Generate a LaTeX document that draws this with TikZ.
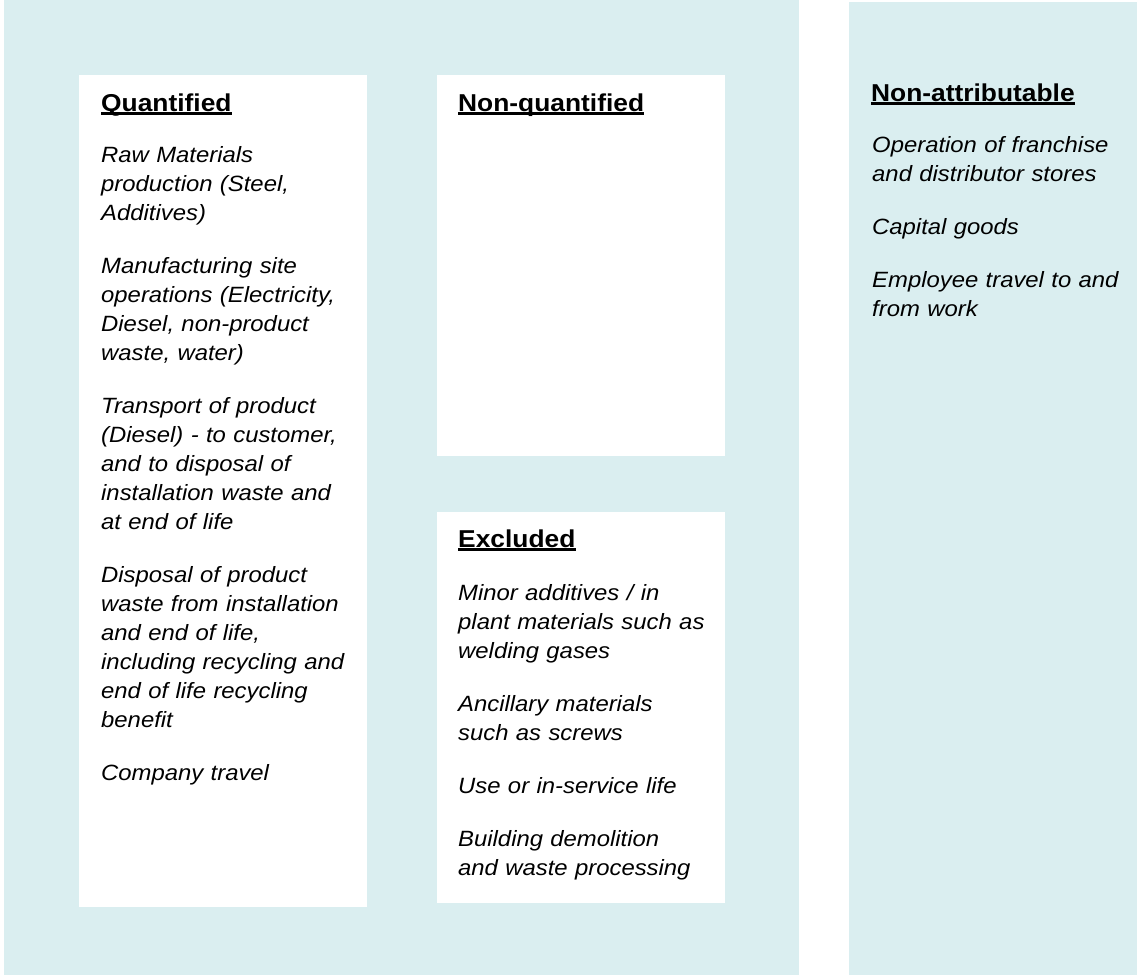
\documentclass[tikz,border=0pt]{standalone}
\usepackage{fontspec}
\setmainfont{Liberation Sans}[FakeStretch=1.08]
\definecolor{panelblue}{RGB}{218,238,240}
\begin{document}
\begin{tikzpicture}[x=1pt,y=-1pt,
  panel/.style={fill=panelblue,draw=none},
  card/.style={fill=white,draw=none},
  heading/.style={anchor=base west,inner sep=0pt,font=\fontsize{24.4}{29}\selectfont\bfseries},
  items/.style={anchor=base west,inner sep=0pt,align=left,text width=265pt,
    font=\fontsize{22.1}{29}\selectfont\itshape},
  underrule/.style={line width=3pt}]

\useasboundingbox (0,0) rectangle (1137,975);

% background panels
\path[panel] (4,0) rectangle (799,975);
\path[panel] (849,2) rectangle (1137,975);

% white cards
\path[card] (79,75) rectangle (367,907);
\path[card] (437,75) rectangle (725,456);
\path[card] (437,512) rectangle (725,903);

% headings
\node[heading] (hq) at (101,111) {Quantified};
\node[heading] (hn) at (458,111) {Non-quantified};
\node[heading] (he) at (458,547) {Excluded};
\node[heading] (ha) at (871,101) {Non-attributable};
\foreach \h in {hq,hn,he,ha}
  \draw[underrule] ([yshift=-2pt]\h.base west) -- ([yshift=-2pt]\h.base east);

% item lists
\node[items] (lq) at (101,162) {%
  Raw Materials\\ production (Steel,\\ Additives)\\[24pt]
  Manufacturing site\\ operations (Electricity,\\ Diesel, non-product\\ waste, water)\\[24pt]
  Transport of product\\ (Diesel) - to customer,\\ and to disposal of\\ installation waste and\\ at end of life\\[24pt]
  Disposal of product\\ waste from installation\\ and end of life,\\ including recycling and\\ end of life recycling\\ benefit\\[24pt]
  Company travel};

\node[items] (le) at (458,600) {%
  Minor additives / in\\ plant materials such as\\ welding gases\\[24pt]
  Ancillary materials\\ such as screws\\[24pt]
  Use or in-service life\\[24pt]
  Building demolition\\ and waste processing};

\node[items] (la) at (872,152) {%
  Operation of franchise\\ and distributor stores\\[24pt]
  Capital goods\\[24pt]
  Employee travel to and\\ from work};

\end{tikzpicture}
\end{document}
